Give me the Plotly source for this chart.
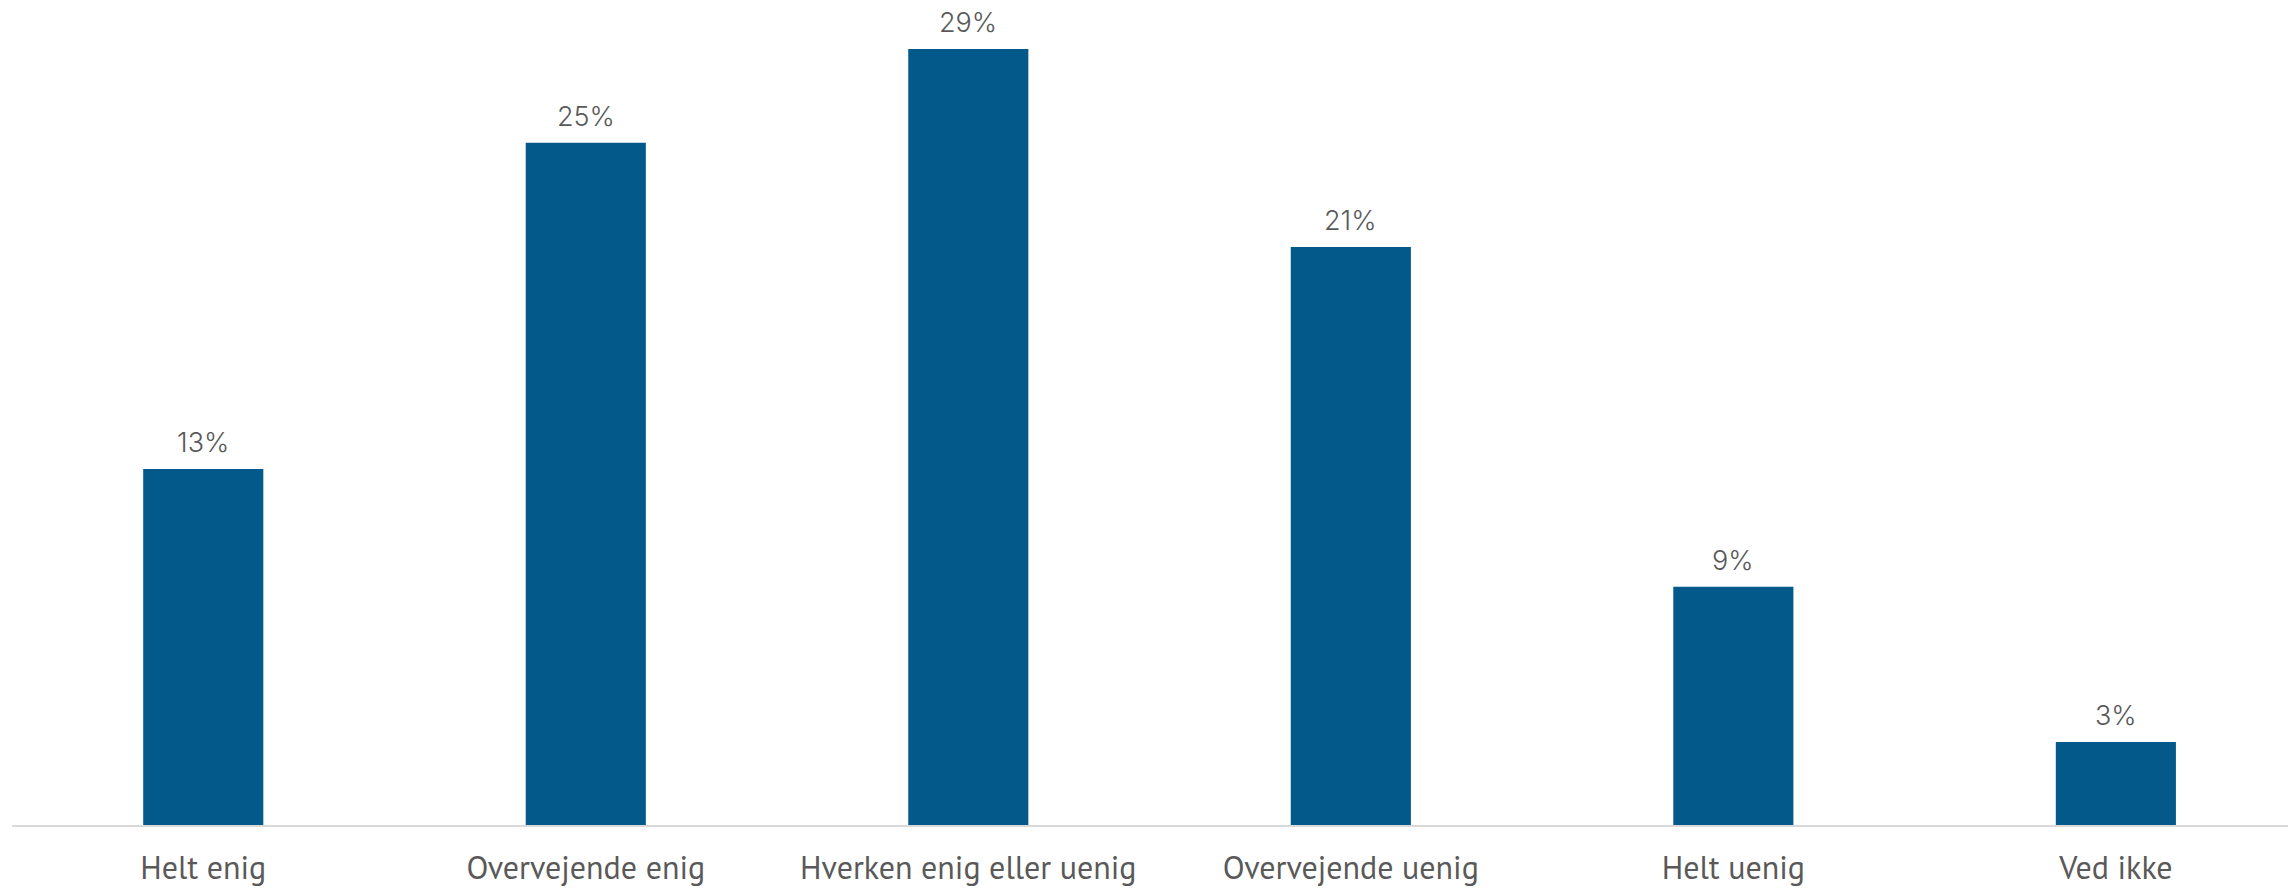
import plotly.graph_objects as go

categories = ["Helt enig", "Overvejende enig", "Hverken enig eller uenig",
              "Overvejende uenig", "Helt uenig", "Ved ikke"]
values = [13.3, 25.5, 29.0, 21.6, 8.9, 3.1]
labels = ["13%", "25%", "29%", "21%", "9%", "3%"]

fig = go.Figure()
fig.add_trace(go.Bar(
    x=categories, y=values, width=0.314,
    marker=dict(color="#03598a", line=dict(width=0)),
    hoverinfo="skip",
))
for c, v, t in zip(categories, values, labels):
    fig.add_annotation(x=c, y=v, text=t, showarrow=False, yanchor="bottom",
                       yshift=9, borderpad=0,
                       font=dict(family="Inter", size=27, color="#595959", weight=300))

fig.update_layout(
    width=2288, height=888,
    margin=dict(l=12, r=0, t=0, b=63),
    plot_bgcolor="white", paper_bgcolor="white",
    showlegend=False,
    xaxis=dict(range=[-0.5, 5.45], showline=True, linecolor="#d9d9d9", linewidth=2,
               showgrid=False, ticks="", zeroline=False, automargin=False,
               ticklabelstandoff=14,
               tickfont=dict(family="Liberation Sans Narrow, PT Sans, Roboto", size=32, color="#595959")),
    yaxis=dict(range=[0, 30.83], visible=False, showgrid=False, zeroline=False, automargin=False),
)
fig.write_html("out.html", config={"displayModeBar": False},
               post_script="document.body.style.margin='0';")
